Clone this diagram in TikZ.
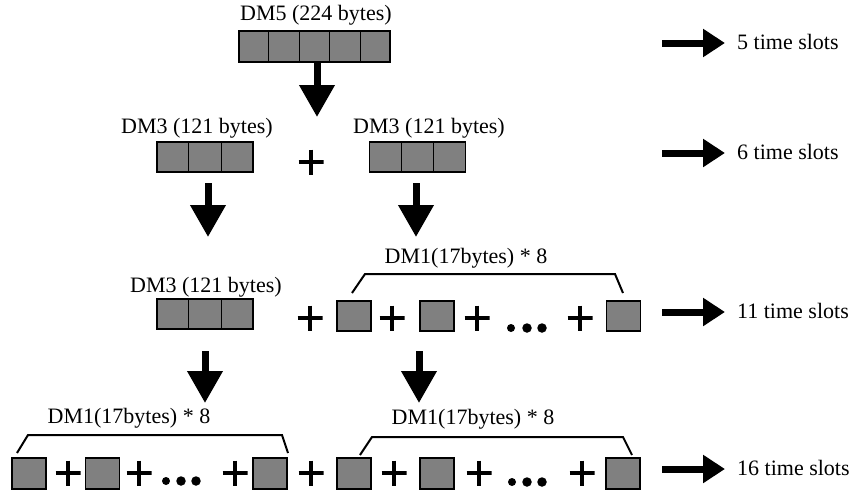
\documentclass[tikz,border=0pt]{standalone}
\usepackage{fontspec}
\setmainfont{Liberation Serif}
\usetikzlibrary{arrows.meta,calc}
\begin{document}
\begin{tikzpicture}[x=1pt,y=-1pt,
  font=\fontsize{22}{25}\selectfont,
  cellbox/.style={draw, line width=1.3pt, fill=gray, inner sep=0pt, minimum height=30pt},
  single/.style={cellbox, minimum width=34pt},
  lbl/.style={anchor=base, inner sep=0pt},
  slotlbl/.style={anchor=base west, inner sep=0pt},
  plus/.style={minimum width=25pt, minimum height=25pt, inner sep=0pt,
    path picture={\draw[line width=3.4pt]
      (path picture bounding box.west) -- (path picture bounding box.east)
      (path picture bounding box.north) -- (path picture bounding box.south);}},
  dot/.style={circle, fill=black, inner sep=0pt, minimum size=9.5pt},
  smalldot/.style={dot, minimum size=8pt},
  downarrow/.style={line width=7pt, -{Triangle[width=34pt,length=32pt]}},
  slotarrow/.style={line width=7pt, -{Triangle[width=27pt,length=22pt]}},
  bracket/.style={line width=2pt},
  divider/.style={line width=1.3pt},
]
\useasboundingbox (0,0) rectangle (855,491);

% ---- DM5 ----
\node[lbl] (l5) at (316,20) {DM5 (224 bytes)};
\node[cellbox, minimum width=151pt, minimum height=31pt] (dm5) at (314.5,46.5) {};
\foreach \f in {0.2,0.4,0.6,0.8}
  \draw[divider] ($(dm5.north west)!\f!(dm5.north east)$) -- ($(dm5.south west)!\f!(dm5.south east)$);
\coordinate (a1s) at (317,63);
\coordinate (a1e) at (317,117);
\draw[downarrow] (a1s) -- (a1e);

% ---- two DM3 ----
\node[lbl] (l3a) at (197,133) {DM3 (121 bytes)};
\node[lbl] (l3b) at (429,133) {DM3 (121 bytes)};
\node[cellbox, minimum width=96pt] (r2l) at (205,157) {};
\node[cellbox, minimum width=96pt] (r2r) at (417.5,157) {};
\foreach \b in {r2l,r2r}
  \foreach \f in {0.3333,0.6667}
    \draw[divider] ($(\b.north west)!\f!(\b.north east)$) -- ($(\b.south west)!\f!(\b.south east)$);
\node[plus] (p2) at (311,162) {};
\coordinate (a2s) at (208,183);
\coordinate (a2e) at (208,237);
\coordinate (a3s) at (416,183);
\coordinate (a3e) at (416,237);
\draw[downarrow] (a2s) -- (a2e);
\draw[downarrow] (a3s) -- (a3e);

% ---- DM3 + 8 x DM1 ----
\node[lbl] (l3c) at (206,292) {DM3 (121 bytes)};
\node[cellbox, minimum width=96pt] (r3l) at (205,314) {};
\foreach \f in {0.3333,0.6667}
  \draw[divider] ($(r3l.north west)!\f!(r3l.north east)$) -- ($(r3l.south west)!\f!(r3l.south east)$);
\node[plus] (p3a) at (310,318) {};
\node[single] (s3a) at (354,316) {};
\node[plus] (p3b) at (392,318) {};
\node[single] (s3b) at (437,316) {};
\node[plus] (p3c) at (477,318) {};
\node[smalldot] (d3a) at (511,328) {};
\node[dot] (d3b) at (527,328) {};
\node[dot] (d3c) at (542,328) {};
\node[plus] (p3d) at (580,318) {};
\node[single] (s3c) at (623.5,316) {};
\node[lbl] (l1a) at (466,263) {DM1(17bytes) * 8};
\draw[bracket] (352,293) -- (365,274) -- (615,274) -- (623,293);
\coordinate (a4s) at (205,351);
\coordinate (a4e) at (205,403);
\coordinate (a5s) at (419,351);
\coordinate (a5e) at (419,403);
\draw[downarrow] (a4s) -- (a4e);
\draw[downarrow] (a5s) -- (a5e);

% ---- 16 x DM1 ----
\node[lbl] (l1b) at (129,423) {DM1(17bytes) * 8};
\node[lbl] (l1c) at (473,424) {DM1(17bytes) * 8};
\draw[bracket] (17,453) -- (28,435) -- (282,435) -- (288,453);
\draw[bracket] (360,455) -- (372,437) -- (623,437) -- (632,455);
\node[single, minimum height=31pt] (s4a) at (29,473.5) {};
\node[plus] (p4a) at (68,473) {};
\node[single, minimum height=31pt] (s4b) at (102.5,473.5) {};
\node[plus] (p4b) at (139,473) {};
\node[smalldot] (d4a) at (166,481) {};
\node[dot] (d4b) at (181,481) {};
\node[dot] (d4c) at (196,481) {};
\node[plus] (p4c) at (235,473) {};
\node[single, minimum height=31pt] (s4c) at (270,473.5) {};
\node[plus] (p4d) at (311,473) {};
\node[single, minimum height=31pt] (s4d) at (354,473.5) {};
\node[plus] (p4e) at (394,473) {};
\node[single, minimum height=31pt] (s4e) at (437,473.5) {};
\node[plus] (p4f) at (479,473) {};
\node[smalldot] (d4d) at (512,482) {};
\node[dot] (d4e) at (527,482) {};
\node[dot] (d4f) at (542,482) {};
\node[plus] (p4g) at (582,473) {};
\node[single, minimum height=31pt] (s4f) at (623,473.5) {};

% ---- time slots ----
\foreach \y/\n/\t in {43/t5/5, 153/t6/6, 312/t11/11, 469/t16/16} {
  \node[slotlbl] (\n) at (737,\y+6) {\t\ time slots};
  \coordinate (\n s) at (662,\y);
  \coordinate (\n e) at (725,\y);
  \draw[slotarrow] (\n s) -- (\n e);
}
\end{tikzpicture}
\end{document}
